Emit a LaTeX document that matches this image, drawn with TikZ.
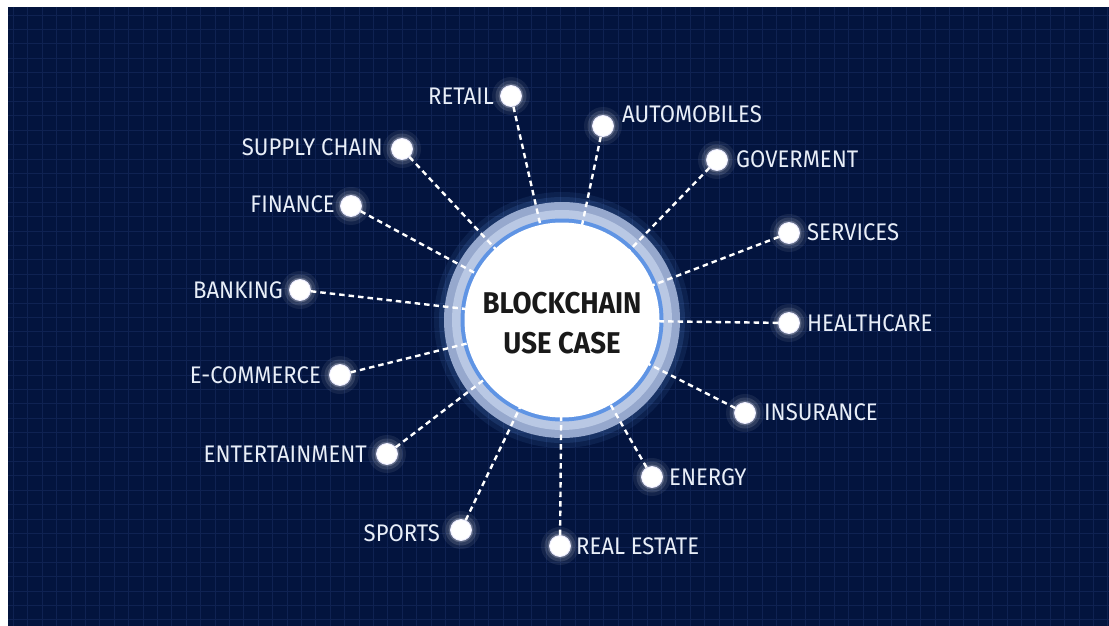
\documentclass[tikz,border=0pt]{standalone}
\usepackage{fontspec}
\setmainfont[FakeStretch=0.92]{Fira Sans}
\usetikzlibrary{calc}
\definecolor{bg}{RGB}{3,20,62}
\definecolor{gridc}{RGB}{15,34,82}
\definecolor{ringout}{RGB}{150,168,205}
\definecolor{ringin}{RGB}{185,200,228}
\definecolor{ringblue}{RGB}{95,148,228}
\definecolor{labelc}{RGB}{232,238,248}
\tikzset{
  dotnode/.style={circle, fill=white, minimum size=21pt, inner sep=0pt, draw=white!80!blue!40, line width=0.8pt},
  lbl/.style={inner sep=0pt, text=labelc, font=\fontsize{24}{26}\selectfont},
  link/.style={white, line width=2.4pt, dash pattern=on 5.5pt off 4pt},
  centertext/.style={align=center, text=black!90, font=\fontsize{30}{40}\selectfont\bfseries}
}
\begin{document}
\begin{tikzpicture}[x=1pt,y=-1pt]
\useasboundingbox (0,0) rectangle (1109,626);
\fill[white] (0,0) rectangle (1109,626);
\fill[bg] (8,7) rectangle (1109,626);
\begin{scope}
\clip (8,7) rectangle (1109,626);
\foreach \i in {0,...,76} {
  \draw[gridc, line width=0.9pt] (13.5+\i*14.4,7) -- (13.5+\i*14.4,626);
}
\foreach \i in {0,...,43} {
  \draw[gridc, line width=0.9pt] (8,15+\i*14.4) -- (1109,15+\i*14.4);
}
\end{scope}
% center glow and ring
\coordinate (c) at (562,320);
\fill[ringblue, opacity=0.10] (c) circle (128);
\fill[ringblue, opacity=0.15] (c) circle (123);
\fill[ringout] (c) circle (118);
\fill[ringin] (c) circle (110);
\fill[ringblue] (c) circle (101.5);
\fill[white] (c) circle (97.5);
\node[centertext] (center) at (562,323) {BLOCKCHAIN\\USE CASE};
% dots
\foreach \n/\x/\y in {retail/511/96, auto/603/126, gov/717/160, serv/789/233, health/789/323, ins/745/413, energy/652/477, real/560/546, sports/461/530, ent/387/454, ecom/340/375, bank/300/290, fin/351/206, supply/402/149} {
  \fill[white, opacity=0.07] (\x,\y) circle (19);
  \fill[white, opacity=0.12] (\x,\y) circle (15.5);
  \fill[white, opacity=0.2] (\x,\y) circle (12.5);
  \node[dotnode] (\n) at (\x,\y) {};
  \draw[link] (\n) -- ($(c)!97pt!(\n)$);
}
% labels
\node[lbl, anchor=east] (lretail) at (494,96) {RETAIL};
\node[lbl, anchor=west] (lauto) at (622,114) {AUTOMOBILES};
\node[lbl, anchor=west] (lgov) at (736,159) {GOVERMENT};
\node[lbl, anchor=west] (lserv) at (807,232) {SERVICES};
\node[lbl, anchor=west] (lhealth) at (807,323) {HEALTHCARE};
\node[lbl, anchor=west] (lins) at (764,412) {INSURANCE};
\node[lbl, anchor=west] (lenergy) at (669,477) {ENERGY};
\node[lbl, anchor=west] (lreal) at (576,546) {REAL ESTATE};
\node[lbl, anchor=east] (lsports) at (440,533) {SPORTS};
\node[lbl, anchor=east] (lent) at (367,454) {ENTERTAINMENT};
\node[lbl, anchor=east] (lecom) at (321,375) {E-COMMERCE};
\node[lbl, anchor=east] (lbank) at (283,290) {BANKING};
\node[lbl, anchor=east] (lfin) at (335,204) {FINANCE};
\node[lbl, anchor=east] (lsupply) at (383,147) {SUPPLY CHAIN};
\end{tikzpicture}
\end{document}
